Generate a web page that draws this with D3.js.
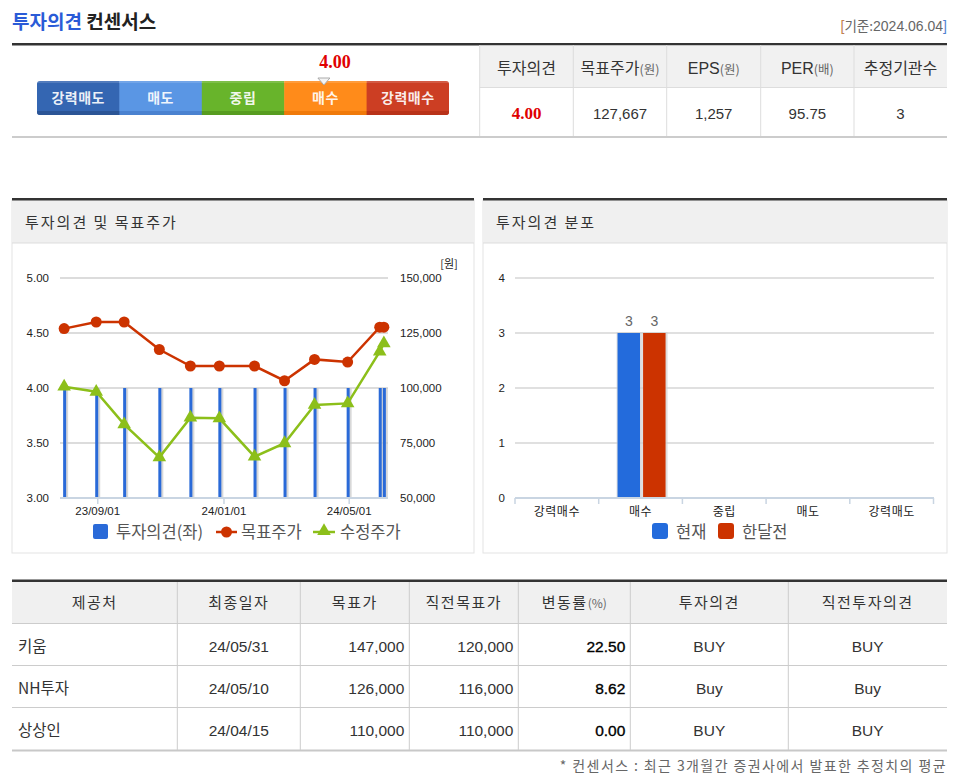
<!DOCTYPE html>
<html><head><meta charset="utf-8">
<script src="https://cdn.jsdelivr.net/npm/d3@7"></script>
<style>
html,body{margin:0;padding:0;background:#fff;}
svg{display:block;font-family:"Noto Sans CJK KR","Noto Sans",sans-serif;}
</style></head>
<body><div id="chart"></div>
<script>
// ---------- DATA ----------
const titleBlue = "투자의견";
const titleDark = "컨센서스";
const baseDate = "[기준:2024.06.04]";
const ratingCategories = ["강력매도", "매도", "중립", "매수", "강력매수"];
const consensusScore = 4.00;
const summaryHeaders = ["투자의견", "목표주가", "EPS", "PER", "추정기관수"];
const summaryUnits = ["", "(원)", "(원)", "(배)", ""];
const summaryValues = ["4.00", "127,667", "1,257", "95.75", "3"];

const chartDates = ["2023-07-31", "2023-08-31", "2023-09-27", "2023-10-31", "2023-11-30", "2023-12-28",
                    "2024-01-31", "2024-02-29", "2024-03-29", "2024-04-30", "2024-05-31", "2024-06-04"];
const opinionValues = [4, 4, 4, 4, 4, 4, 4, 4, 4, 4, 4, 4];
const targetPrices = [127000, 130000, 130000, 117500, 110000, 110000, 110000, 103300, 113000, 111800, 127667, 127667];
const adjustedPrices = [100600, 98300, 83500, 68500, 86500, 86200, 68800, 74900, 92300, 93000, 116500, 120300];
const opinionTicks = [3.0, 3.5, 4.0, 4.5, 5.0];
const priceTicks = [50000, 75000, 100000, 125000, 150000];
const dateTicks = ["2023-09-01", "2024-01-01", "2024-05-01"];
const lineLegend = ["투자의견(좌)", "목표주가", "수정주가"];

const distCategories = ["강력매수", "매수", "중립", "매도", "강력매도"];
const distCurrent = [0, 3, 0, 0, 0];
const distMonthAgo = [0, 3, 0, 0, 0];
const distTicks = [0, 1, 2, 3, 4];
const distLegend = ["현재", "한달전"];

const tableHeaders = ["제공처", "최종일자", "목표가", "직전목표가", "변동률", "투자의견", "직전투자의견"];
const brokers = ["키움", "NH투자", "상상인"];
const reportDates = ["24/05/31", "24/05/10", "24/04/15"];
const targets = ["147,000", "126,000", "110,000"];
const prevTargets = ["120,000", "116,000", "110,000"];
const changeRates = ["22.50", "8.62", "0.00"];
const opinions = ["BUY", "Buy", "BUY"];
const prevOpinions = ["BUY", "Buy", "BUY"];
const footnote = "* 컨센서스 : 최근 3개월간 증권사에서 발표한 추정치의 평균";

// ---------- DRAW ----------
const W = 955, H = 782;
const svg = d3.select("#chart").append("svg").attr("width", W).attr("height", H);
const parse = d3.timeParse("%Y-%m-%d");
const KR = '"Noto Sans CJK KR","Noto Sans",sans-serif';
const NUM = '"Liberation Sans",Arial,"Noto Sans",sans-serif';

// Title
const t = svg.append("text").attr("x", 12).attr("y", 29).attr("font-size", 19).attr("font-weight", 700);
t.append("tspan").attr("fill", "#2a5bd7").text(titleBlue);
t.append("tspan").attr("fill", "#222").text(" " + titleDark);
const bd = svg.append("text").attr("x", 947).attr("y", 31).attr("text-anchor", "end")
  .attr("font-size", 14).attr("fill", "#666").attr("font-family", NUM);
bd.append("tspan").attr("fill", "#c08050").text(baseDate[0]);
bd.append("tspan").attr("font-family", KR).attr("font-size", 13.5).text(baseDate.slice(1, 4));
bd.append("tspan").text(baseDate.slice(4, -1));
bd.append("tspan").attr("fill", "#4f7fd0").text(baseDate.slice(-1));

svg.append("rect").attr("x", 12).attr("y", 43).attr("width", 935).attr("height", 2.5).attr("fill", "#333");
svg.append("rect").attr("x", 12).attr("y", 136).attr("width", 935).attr("height", 2).attr("fill", "#ccc");

// Rating bar
const segColors = ["#3466b2", "#5a96e4", "#68b42b", "#ff8b1a", "#cc3e23"];
const segDark = ["#2b5596", "#4a82d0", "#579c20", "#f07a0a", "#b93219"];
const xr = d3.scaleBand().domain(ratingCategories).range([37, 449]).padding(0);
const defs = svg.append("defs");
const clip = defs.append("clipPath").attr("id", "rb");
clip.append("rect").attr("x", 37).attr("y", 81).attr("width", 412).attr("height", 34).attr("rx", 3);
const rb = svg.append("g").attr("clip-path", "url(#rb)");
rb.selectAll("rect.s").data(ratingCategories).join("rect").attr("class", "s")
  .attr("x", d => xr(d)).attr("y", 81).attr("width", xr.bandwidth() + 0.5).attr("height", 34)
  .attr("fill", (d, i) => segColors[i]);
rb.selectAll("rect.b").data(ratingCategories).join("rect").attr("class", "b")
  .attr("x", d => xr(d)).attr("y", 111).attr("width", xr.bandwidth() + 0.5).attr("height", 4)
  .attr("fill", (d, i) => segDark[i]);
rb.selectAll("rect.t").data(ratingCategories).join("rect").attr("class", "t")
  .attr("x", d => xr(d)).attr("y", 81).attr("width", xr.bandwidth() + 0.5).attr("height", 2)
  .attr("fill", "#fff").attr("opacity", 0.15);
svg.selectAll("text.seg").data(ratingCategories).join("text").attr("class", "seg")
  .attr("x", d => xr(d) + xr.bandwidth() / 2).attr("y", 103).attr("text-anchor", "middle")
  .attr("font-size", 14).attr("font-weight", 700).attr("letter-spacing", 0.5).attr("fill", "#fff").attr("fill-opacity", 0.92).text(d => d);
const scoreX = d3.scaleLinear().domain([1, 5]).range([xr("강력매도") + xr.bandwidth() / 2, xr("강력매수") + xr.bandwidth() / 2]);
const sx = scoreX(consensusScore) - 1.5;
svg.append("path").attr("d", `M${sx - 6},78 L${sx + 6},78 L${sx},85 Z`).attr("fill", "#f4f4f4").attr("stroke", "#aaa").attr("stroke-width", 1);
svg.append("text").attr("x", sx + 11).attr("y", 68).attr("text-anchor", "middle")
  .attr("font-family", '"Liberation Serif","DejaVu Serif",serif').attr("font-weight", 700)
  .attr("font-size", 18).attr("fill", "#e00000").text(consensusScore.toFixed(2));

// Summary table
const sCols = [479.7, 573.3, 666.7, 760.7, 854, 947];
svg.append("rect").attr("x", sCols[0]).attr("y", 45.5).attr("width", 947 - sCols[0]).attr("height", 42).attr("fill", "#f1f1f1");
svg.append("line").attr("x1", sCols[0]).attr("x2", 947).attr("y1", 87.5).attr("y2", 87.5).attr("stroke", "#ddd");
svg.selectAll("line.sv").data(sCols.slice(0, 5)).join("line").attr("class", "sv")
  .attr("x1", d => d).attr("x2", d => d).attr("y1", 45).attr("y2", 136).attr("stroke", "#ddd");
summaryHeaders.forEach((h, i) => {
  const cx = (sCols[i] + sCols[i + 1]) / 2;
  const tx = svg.append("text").attr("x", cx).attr("y", 74).attr("text-anchor", "middle").attr("fill", "#333").attr("font-size", 16);
  tx.append("tspan").attr("font-family", i === 2 || i === 3 ? NUM : KR).text(h);
  if (summaryUnits[i]) tx.append("tspan").attr("font-size", 12.5).attr("fill", "#666").text(summaryUnits[i]);
  svg.append("text").attr("x", cx).attr("y", 119).attr("text-anchor", "middle")
    .attr("font-size", i === 0 ? 17 : 15)
    .attr("font-family", i === 0 ? '"Liberation Serif",serif' : NUM)
    .attr("font-weight", i === 0 ? 700 : 400)
    .attr("fill", i === 0 ? "#e00000" : "#333").text(summaryValues[i]);
});

// Panels
function panel(x0, x1, title) {
  svg.append("rect").attr("x", x0).attr("y", 200).attr("width", x1 - x0).attr("height", 353).attr("fill", "#fff").attr("stroke", "#e3e3e3");
  svg.append("rect").attr("x", x0).attr("y", 200).attr("width", x1 - x0).attr("height", 43).attr("fill", "#f0f0f0");
  svg.append("rect").attr("x", x0).attr("y", 198).attr("width", x1 - x0).attr("height", 2.5).attr("fill", "#333");
  svg.append("line").attr("x1", x0).attr("x2", x1).attr("y1", 243).attr("y2", 243).attr("stroke", "#ddd");
  svg.append("text").attr("x", x0 + 13).attr("y", 228).attr("font-size", 15).attr("fill", "#333").attr("letter-spacing", 2).text(title);
}
panel(12, 474, "투자의견 및 목표주가");
panel(483, 947, "투자의견 분포");

// Left chart
const dates = chartDates.map(parse);
const x = d3.scaleTime().domain([parse("2023-07-27"), parse("2024-06-08")]).range([60, 388]);
const yL = d3.scaleLinear().domain([3, 5]).range([498, 278]);
const yR = d3.scaleLinear().domain([50000, 150000]).range([498, 278]);
const gl = svg.append("g");
gl.selectAll("line.g").data(opinionTicks).join("line").attr("class", "g")
  .attr("x1", 60).attr("x2", 388).attr("y1", d => yL(d)).attr("y2", d => yL(d))
  .attr("stroke", "#dcdcdc").attr("stroke-width", 2);
const axL = gl.append("g").attr("transform", "translate(50,0)")
  .call(d3.axisLeft(yL).tickValues(opinionTicks).tickFormat(d3.format(".2f")).tickSize(0));
const axR = gl.append("g").attr("transform", "translate(400,0)")
  .call(d3.axisRight(yR).tickValues(priceTicks).tickFormat(d3.format(",")).tickSize(0));
[axL, axR].forEach(a => {
  a.select(".domain").remove();
  a.selectAll("text").attr("font-family", NUM).attr("font-size", 11.5).attr("fill", "#222").attr("dy", "0.32em");
});
axR.selectAll("text").attr("x", 0);
axL.selectAll("text").attr("x", -1);
gl.append("text").attr("x", 449).attr("y", 268).attr("text-anchor", "middle").attr("font-size", 11).attr("fill", "#222").text("[원]");

// opinion bars
gl.selectAll("rect.bs").data(opinionValues).join("rect").attr("class", "bs")
  .attr("x", (d, i) => x(dates[i]) + 1).attr("y", d => yL(d)).attr("width", 3).attr("height", d => yL(3) - yL(d))
  .attr("fill", "#c8c8c8").attr("opacity", 0.7);
gl.selectAll("rect.bb").data(opinionValues).join("rect").attr("class", "bb")
  .attr("x", (d, i) => x(dates[i]) - 1).attr("y", d => yL(d)).attr("width", 3).attr("height", d => yL(3) - yL(d))
  .attr("fill", "#2a6ad8");

// x axis
const xa = gl.append("g").attr("transform", "translate(0,498)")
  .call(d3.axisBottom(x).tickValues(dateTicks.map(parse)).tickFormat(d3.timeFormat("%y/%m/%d")).tickSize(6).tickPadding(3));
xa.select(".domain").attr("stroke", "#c9d5e2").attr("stroke-width", 2).attr("d", "M60,0H388");
xa.selectAll(".tick line").attr("stroke", "#c9d5e2").attr("stroke-width", 1.5);
xa.selectAll("text").attr("font-family", NUM).attr("font-size", 11.5).attr("fill", "#222");

// lines
const redC = "#cc3300", greenC = "#8cbf1a";
const lineT = d3.line().x((d, i) => x(dates[i])).y(d => yR(d));
gl.append("path").attr("d", lineT(targetPrices)).attr("fill", "none").attr("stroke", redC).attr("stroke-width", 2.5);
gl.selectAll("circle.tp").data(targetPrices).join("circle").attr("class", "tp")
  .attr("cx", (d, i) => x(dates[i])).attr("cy", d => yR(d)).attr("r", 5.5).attr("fill", redC);
gl.append("path").attr("d", lineT(adjustedPrices)).attr("fill", "none").attr("stroke", greenC).attr("stroke-width", 2.5);
const tri = d3.symbol().type(d3.symbolTriangle).size(80);
gl.selectAll("path.ap").data(adjustedPrices).join("path").attr("class", "ap")
  .attr("transform", (d, i) => `translate(${x(dates[i])},${yR(d)})`).attr("d", tri).attr("fill", greenC);

// left legend
const lg = svg.append("g").attr("font-size", 16.5).attr("fill", "#555");
lg.append("rect").attr("x", 93).attr("y", 524).attr("width", 15).attr("height", 15).attr("rx", 2).attr("fill", "#2a6ad8");
lg.append("text").attr("x", 116).attr("y", 538).text(lineLegend[0]);
lg.append("line").attr("x1", 216).attr("x2", 237).attr("y1", 532).attr("y2", 532).attr("stroke", redC).attr("stroke-width", 2.5);
lg.append("circle").attr("cx", 226.5).attr("cy", 532).attr("r", 5.5).attr("fill", redC);
lg.append("text").attr("x", 241).attr("y", 538).text(lineLegend[1]);
lg.append("line").attr("x1", 313).attr("x2", 335).attr("y1", 532).attr("y2", 532).attr("stroke", greenC).attr("stroke-width", 2.5);
lg.append("path").attr("transform", "translate(324,531)").attr("d", tri).attr("fill", greenC);
lg.append("text").attr("x", 340).attr("y", 538).text(lineLegend[2]);

// Right chart
const xb = d3.scaleBand().domain(distCategories).range([515, 933.5]).padding(0);
const yb = d3.scaleLinear().domain([0, 4]).range([498, 278]);
const gr = svg.append("g");
gr.selectAll("line.g").data(distTicks).join("line").attr("class", "g")
  .attr("x1", 515).attr("x2", 934).attr("y1", d => yb(d)).attr("y2", d => yb(d))
  .attr("stroke", "#e0e0e0").attr("stroke-width", 2);
const ay = gr.append("g").attr("transform", "translate(505,0)")
  .call(d3.axisLeft(yb).tickValues(distTicks).tickFormat(d3.format("d")).tickSize(0));
ay.select(".domain").remove();
ay.selectAll("text").attr("font-family", NUM).attr("font-size", 11.5).attr("fill", "#222").attr("x", 0).attr("dy", "0.32em");

const inner = d3.scaleBand().domain([0, 1]).range([0, 48]).paddingInner(0.12);
const series = [{vals: distCurrent, color: "#236bdc"}, {vals: distMonthAgo, color: "#cc3300"}];
series.forEach((s, si) => {
  const off = xb.bandwidth() / 2 - 24 + 1;
  const dd = s.vals.map((v, i) => ({cat: distCategories[i], v})).filter(d => d.v > 0);
  const bx = d => xb(d.cat) + off + inner(si);
  gr.selectAll(`rect.sh${si}`).data(dd).join("rect").attr("class", `sh${si}`)
    .attr("x", d => bx(d) - 1).attr("y", d => yb(d.v) - 1)
    .attr("width", inner.bandwidth() + 3).attr("height", d => yb(0) - yb(d.v) + 1).attr("fill", "#d0d0d0").attr("opacity", 0.7);
  gr.selectAll(`rect.b${si}`).data(dd).join("rect").attr("class", `b${si}`)
    .attr("x", d => bx(d)).attr("y", d => yb(d.v))
    .attr("width", inner.bandwidth()).attr("height", d => yb(0) - yb(d.v)).attr("fill", s.color);
  gr.selectAll(`text.l${si}`).data(dd).join("text").attr("class", `l${si}`)
    .attr("x", d => bx(d) + inner.bandwidth() / 2).attr("y", d => yb(d.v) - 7)
    .attr("text-anchor", "middle").attr("font-family", NUM).attr("font-size", 14).attr("fill", "#666").text(d => d.v);
});
const ax = gr.append("g").attr("transform", "translate(0,498)")
  .call(d3.axisBottom(xb).tickSize(0).tickPadding(9));
ax.select(".domain").attr("stroke", "#c9d5e2").attr("stroke-width", 2).attr("d", "M515,0H934");
ax.selectAll(".tick text").attr("font-size", 12).attr("letter-spacing", 0.5).attr("fill", "#222").attr("font-family", KR);
gr.selectAll("line.bt").data(distCategories.concat(["end"])).join("line").attr("class", "bt")
  .attr("x1", (d, i) => i < 5 ? xb(d) : 933.5).attr("x2", (d, i) => i < 5 ? xb(d) : 933.5)
  .attr("y1", 498).attr("y2", 504).attr("stroke", "#c9d5e2").attr("stroke-width", 1.5);
const rg = svg.append("g").attr("font-size", 16.5).attr("fill", "#555");
rg.append("rect").attr("x", 652).attr("y", 523).attr("width", 16).attr("height", 16).attr("rx", 3).attr("fill", "#236bdc");
rg.append("text").attr("x", 676).attr("y", 538).text(distLegend[0]);
rg.append("rect").attr("x", 718).attr("y", 523).attr("width", 16).attr("height", 16).attr("rx", 3).attr("fill", "#cc3300");
rg.append("text").attr("x", 742).attr("y", 538).text(distLegend[1]);

// Bottom table
const cols = [12, 177.3, 300.3, 409.3, 518.3, 630.3, 788.3, 947];
const rowY = [582, 623.5, 665.5, 707.5, 750];
svg.append("rect").attr("x", 12).attr("y", 582).attr("width", 935).attr("height", 41.5).attr("fill", "#f0f0f0");
svg.append("rect").attr("x", 12).attr("y", 579.5).attr("width", 935).attr("height", 2.5).attr("fill", "#333");
svg.selectAll("line.rh").data(rowY.slice(1, 4)).join("line").attr("class", "rh")
  .attr("x1", 12).attr("x2", 947).attr("y1", d => d).attr("y2", d => d).attr("stroke", "#ccc");
svg.append("rect").attr("x", 12).attr("y", 749.5).attr("width", 935).attr("height", 2).attr("fill", "#c8c8c8");
svg.selectAll("line.cv").data(cols.slice(1, 7)).join("line").attr("class", "cv")
  .attr("x1", d => d).attr("x2", d => d).attr("y1", 582).attr("y2", 750).attr("stroke", "#ccc");
tableHeaders.forEach((h, i) => {
  const tx = svg.append("text").attr("x", (cols[i] + cols[i + 1]) / 2).attr("y", 608)
    .attr("text-anchor", "middle").attr("font-size", 15).attr("letter-spacing", 1.5).attr("fill", "#333");
  tx.append("tspan").text(h);
  if (i === 4) tx.append("tspan").attr("font-size", 12).attr("fill", "#666").attr("letter-spacing", 0).text("(%)");
});
const rowsData = brokers.map((b, r) => [b, reportDates[r], targets[r], prevTargets[r], changeRates[r], opinions[r], prevOpinions[r]]);
const align = ["start", "middle", "end", "end", "end", "middle", "middle"];
rowsData.forEach((row, r) => {
  const yy = (rowY[r + 1] + rowY[r + 2]) / 2 + 7;
  row.forEach((v, i) => {
    let xx = align[i] === "start" ? cols[i] + 6 : align[i] === "end" ? cols[i + 1] - 5 : (cols[i] + cols[i + 1]) / 2;
    svg.append("text").attr("x", xx).attr("y", yy).attr("text-anchor", align[i])
      .attr("font-size", 15.5)
      .attr("font-family", i === 0 ? KR : NUM)
      .attr("fill", i === 4 ? "#000" : "#333")
      .attr("stroke", i === 4 ? "#000" : "none").attr("stroke-width", i === 4 ? 0.35 : 0)
      .text(v);
  });
});
svg.append("text").attr("x", 947).attr("y", 771).attr("text-anchor", "end").attr("font-size", 14)
  .attr("fill", "#666").attr("letter-spacing", 1.4).text(footnote);
</script></body></html>
